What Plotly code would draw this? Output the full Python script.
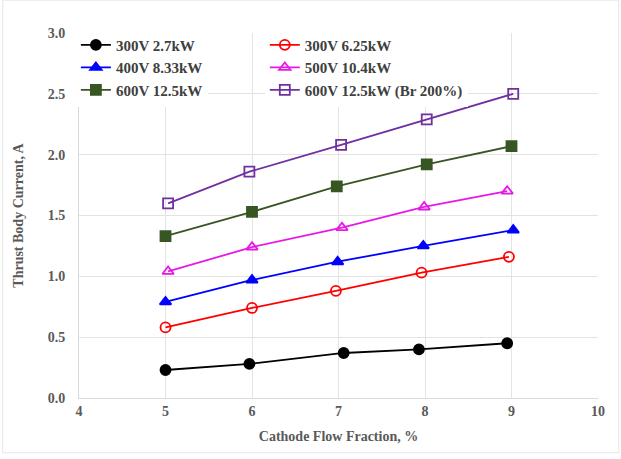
import plotly.graph_objects as go

s_300_27 = [0.23, 0.28, 0.37, 0.40, 0.45]
x_300_27 = [5.0, 5.97, 7.06, 7.93, 8.95]
s_300_625 = [0.58, 0.74, 0.88, 1.03, 1.16]
x_300_625 = [5.0, 6.0, 6.97, 7.96, 8.97]
s_400 = [0.79, 0.97, 1.12, 1.25, 1.38]
x_400 = [5.0, 6.0, 6.99, 7.98, 9.02]
s_500 = [1.04, 1.24, 1.40, 1.57, 1.70]
x_500 = [5.03, 6.0, 7.04, 7.99, 8.95]
s_600 = [1.33, 1.53, 1.74, 1.92, 2.07]
x_600 = [5.0, 6.0, 6.98, 8.02, 9.0]
s_600br = [1.60, 1.86, 2.08, 2.29, 2.50]
x_600br = [5.03, 5.97, 7.03, 8.02, 9.02]

names = ["300V 2.7kW", "300V 6.25kW", "400V 8.33kW", "500V 10.4kW", "600V 12.5kW", "600V 12.5kW (Br 200%)"]
colors = ["#000000", "#FF0000", "#0000FF", "#E619E6", "#375623", "#7030A0"]
symbols = ["circle", "circle-open", "triangle-up", "triangle-up-open", "square", "square-open"]
xs = [x_300_27, x_300_625, x_400, x_500, x_600, x_600br]
ys = [s_300_27, s_300_625, s_400, s_500, s_600, s_600br]
legends = ["legend", "legend2", "legend", "legend2", "legend", "legend2"]

FONT = "Liberation Serif"
fig = go.Figure()
for n, c, s, xx, yy, lg in zip(names, colors, symbols, xs, ys, legends):
    fig.add_trace(go.Scatter(
        x=xx, y=yy, name=n, mode="lines+markers",
        line=dict(color=c, width=1.8),
        marker=dict(symbol=s, size=10, color=c, line=dict(color=c, width=1.8)),
        legend=lg,
    ))

legend_common = dict(
    bgcolor="white", font=dict(family=FONT, size=15, color="#404040", weight="bold"),
    tracegroupgap=0, itemwidth=30, yanchor="top", xanchor="left",
)
fig.update_layout(
    width=621, height=459,
    margin=dict(l=79, r=23, t=33, b=61),
    paper_bgcolor="white", plot_bgcolor="white",
    font=dict(family=FONT, color="#595959"),
    legend=dict(x=-0.006, y=1.012, **legend_common),
    legend2=dict(x=0.358, y=1.012, **legend_common),
    xaxis=dict(
        range=[4, 10], dtick=1, showgrid=True, gridcolor="#E3E3E3", gridwidth=1,
        showline=True, linecolor="#D9D9D9", zeroline=False, ticks="",
        tickfont=dict(family=FONT, size=14, color="#595959", weight="bold"),
        title=dict(text="Cathode Flow Fraction, %", standoff=13,
                   font=dict(family=FONT, size=14, color="#595959", weight="bold")),
    ),
    yaxis=dict(
        range=[0, 3.0], dtick=0.5, tickformat=".1f", showgrid=True, gridcolor="#E3E3E3", gridwidth=1,
        showline=True, linecolor="#D9D9D9", zeroline=False, ticks="",
        tickfont=dict(family=FONT, size=14, color="#595959", weight="bold"),
        ticklabelstandoff=10,
        title=dict(text="Thrust Body Current, A", standoff=20,
                   font=dict(family=FONT, size=14, color="#595959", weight="bold")),
    ),
    showlegend=True,
)
fig.add_shape(type="rect", xref="paper", yref="paper", x0=-0.147, x1=1.04, y0=-0.15, y1=1.09,
              line=dict(color="#E6E6E6", width=1), layer="below")
fig.write_html("out.html")
